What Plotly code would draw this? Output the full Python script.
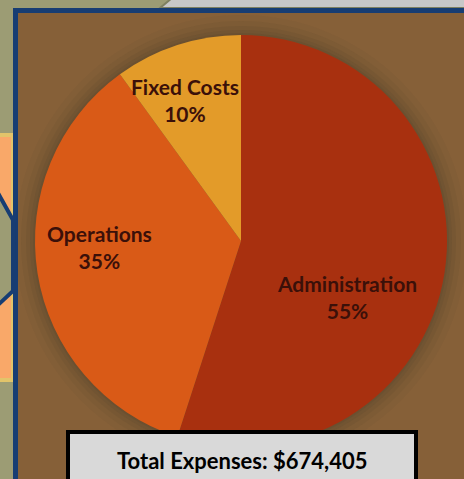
import plotly.graph_objects as go

# ---- data ----
categories = ["Administration", "Operations", "Fixed Costs"]
shares = [55, 35, 10]
slice_colors = ["#A8300F", "#D95A17", "#E39B29"]
total_expenses = 674405

# label centres (pixels from top-left), styling only
label_pos = [(347, 297), (99, 247), (185, 100)]

W, H = 464, 479

def px(x):
    return x / W

def py(y):
    return 1 - y / H

# pie geometry (pixels)
cx, cy, R = 241, 241, 206

shapes = []
# top light grey strip with slanted edge
shapes.append(dict(type="path", xref="paper", yref="paper",
                   path=f"M {px(172)},{py(-2)} L {px(470)},{py(-2)} L {px(470)},{py(8)} L {px(160)},{py(8)} Z",
                   fillcolor="#C8C8C8", line=dict(color="#7E8060", width=2), layer="below"))
# left orange box
shapes.append(dict(type="rect", xref="paper", yref="paper",
                   x0=px(-5), x1=px(13), y0=py(135), y1=py(380),
                   fillcolor="#F9A869", line=dict(color="#E2C46A", width=4), layer="below"))
# grey-green chevron between connectors
shapes.append(dict(type="path", xref="paper", yref="paper",
                   path=f"M {px(-2)},{py(193)} L {px(13)},{py(220)} L {px(13)},{py(291)} L {px(-2)},{py(305)} Z",
                   fillcolor="#9C9C74", line=dict(color="#173D73", width=4), layer="below"))
# main frame
shapes.append(dict(type="rect", xref="paper", yref="paper",
                   x0=px(15.5), x1=px(475), y0=py(490), y1=py(10.5),
                   fillcolor="#866038", line=dict(color="#173D73", width=5), layer="below"))
# soft shadow around pie
for dr, op in [(20, 0.04), (14, 0.06), (9, 0.08), (5, 0.09), (2, 0.10)]:
    shapes.append(dict(type="circle", xref="paper", yref="paper",
                       x0=px(cx - R - dr), x1=px(cx + R + dr),
                       y0=py(cy + R + dr), y1=py(cy - R - dr),
                       fillcolor=f"rgba(55,50,40,{op})", line=dict(width=0), layer="below"))
# total box (above pie)
shapes.append(dict(type="rect", xref="paper", yref="paper",
                   x0=px(68), x1=px(416), y0=py(492), y1=py(432),
                   fillcolor="#D9D9D9", line=dict(color="#000000", width=4), layer="above"))

fig = go.Figure(go.Pie(
    labels=categories,
    values=shares,
    sort=False,
    direction="clockwise",
    rotation=0,
    marker=dict(colors=slice_colors, line=dict(width=0)),
    textinfo="none",
    domain=dict(x=[px(cx - R), px(cx + R)], y=[py(cy + R), py(cy - R)]),
    showlegend=False,
    hoverinfo="label+percent",
))

total_share = sum(shares)
annotations = []
for cat, val, (lx, ly) in zip(categories, shares, label_pos):
    annotations.append(dict(
        text=f"{cat}<br>{round(100 * val / total_share)}%",
        xref="paper", yref="paper", x=px(lx), y=py(ly),
        xanchor="center", yanchor="middle", showarrow=False,
        font=dict(family="Lato", size=21, color="#3B1009", weight="bold"),
    ))
annotations.append(dict(
    text=f"Total Expenses: ${total_expenses:,}",
    xref="paper", yref="paper", x=px(242), y=py(460),
    xanchor="center", yanchor="middle", showarrow=False,
    font=dict(family="Lato", size=22, color="#000000", weight="bold"),
))

fig.update_layout(
    width=W, height=H,
    margin=dict(l=0, r=0, t=0, b=0),
    paper_bgcolor="#9C9C74",
    plot_bgcolor="rgba(0,0,0,0)",
    shapes=shapes,
    annotations=annotations,
)

fig.write_html("out.html",
               config={"displayModeBar": False},
               post_script="document.body.style.margin='0';document.body.style.padding='0';")
